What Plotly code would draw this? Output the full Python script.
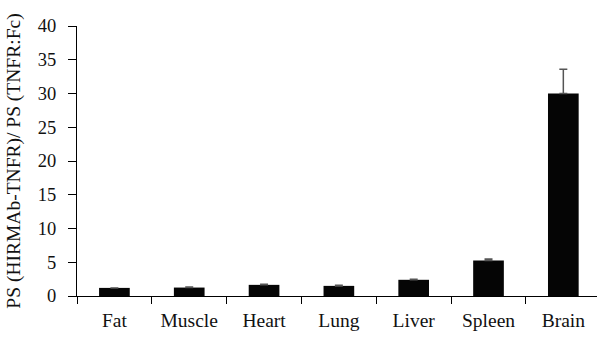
import plotly.graph_objects as go

# Tissue permeability-surface area ratios
tissues = ["Fat", "Muscle", "Heart", "Lung", "Liver", "Spleen", "Brain"]
ps_ratio = [1.2, 1.25, 1.65, 1.5, 2.4, 5.25, 30.0]
ps_error = [0.0, 0.1, 0.1, 0.08, 0.1, 0.25, 3.6]

y_ticks = [0, 5, 10, 15, 20, 25, 30, 35, 40]

font_family = "Times New Roman, Liberation Serif, serif"

fig = go.Figure(
    go.Bar(
        x=tissues,
        y=ps_ratio,
        width=0.41,
        marker=dict(color="#050505", line=dict(width=0)),
        error_y=dict(
            type="data",
            array=ps_error,
            arrayminus=[0] * len(ps_error),
            symmetric=False,
            color="#555555",
            thickness=1.5,
            width=4,
        ),
    )
)

fig.update_layout(
    width=597,
    height=339,
    margin=dict(l=77, r=0, t=26, b=43),
    paper_bgcolor="white",
    plot_bgcolor="white",
    showlegend=False,
    font=dict(family=font_family, size=18, color="#111111"),
    xaxis=dict(
        type="category",
        range=[-0.5, 6.45],
        showline=True,
        linecolor="black",
        linewidth=1,
        ticks="outside",
        tickson="boundaries",
        ticklen=7,
        tickcolor="black",
        ticklabelstandoff=7,
        tickfont=dict(family=font_family, size=19.5),
        showgrid=False,
        zeroline=False,
    ),
    yaxis=dict(
        range=[0, 40],
        tickvals=y_ticks,
        showline=True,
        linecolor="black",
        linewidth=1,
        ticks="outside",
        ticklen=8,
        tickcolor="black",
        ticklabelstandoff=8,
        tickfont=dict(family=font_family, size=18.5),
        showgrid=False,
        zeroline=False,
        title=dict(text="PS (HIRMAb-TNFR)/ PS (TNFR:Fc)", standoff=11,
                   font=dict(family=font_family, size=19.5)),
    ),
)

fig.write_html("out.html")
